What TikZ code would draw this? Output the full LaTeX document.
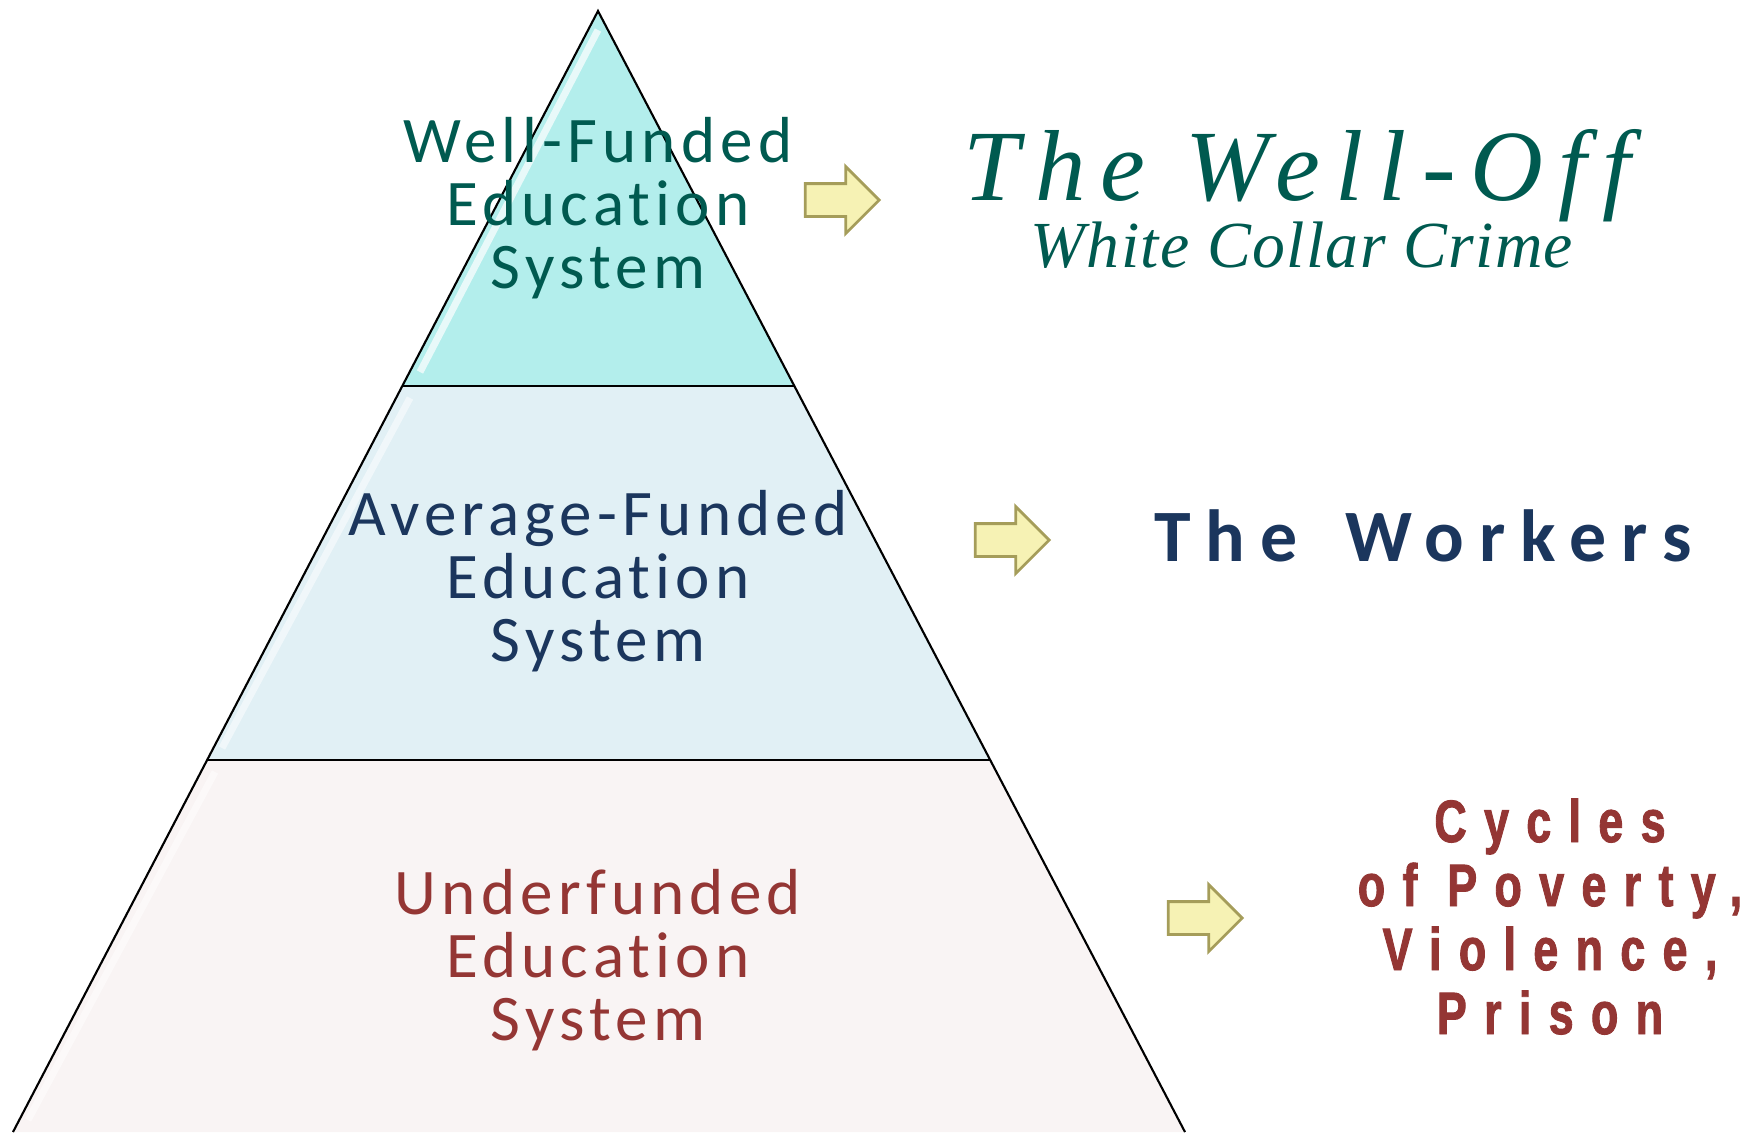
\documentclass[tikz,border=0pt]{standalone}
\usepackage{fontspec}
\usepackage{xcolor}
\usetikzlibrary{shapes.arrows}
\newfontfamily\pyrfont[LetterSpace=8,Ligatures=NoCommon]{Carlito}
\newfontfamily\workfont[LetterSpace=20.5,Ligatures=NoCommon]{Carlito}
\newfontfamily\wellfont[LetterSpace=15]{Liberation Serif}
\newfontfamily\crimefont[LetterSpace=2]{Liberation Serif}
\newfontfamily\cyclefont[LetterSpace=29,FakeStretch=0.75,FakeBold=1.5]{Liberation Sans}
\definecolor{topfill}{RGB}{179,238,236}
\definecolor{midfill}{RGB}{225,240,245}
\definecolor{lowfill}{RGB}{249,244,244}
\definecolor{tealtext}{RGB}{0,90,80}
\definecolor{navytext}{RGB}{27,54,93}
\definecolor{redtext}{RGB}{148,54,52}
\definecolor{arrowfill}{RGB}{246,242,180}
\definecolor{arrowedge}{RGB}{165,157,90}
\tikzstyle{tier} = [draw=black, line width=0.6pt]
\tikzstyle{gloss} = [white, line width=2pt, opacity=0.7]
\tikzstyle{tiertext} = [align=center, anchor=base, font=\pyrfont\fontsize{18.5pt}{17.9pt}\selectfont]
\tikzstyle{fatarrow} = [single arrow, draw=arrowedge, fill=arrowfill, line width=0.8pt, inner xsep=0pt, inner ysep=0.15cm, minimum height=0.74cm, single arrow head extend=0.17cm]

\begin{document}
\begin{tikzpicture}[x=0.01cm, y=-0.01cm]
    \useasboundingbox (0,0) rectangle (1744,1132);
    % Pyramid corners
    \coordinate (apex) at (598,11);
    \coordinate (l1) at (402,386);
    \coordinate (r1) at (794,386);
    \coordinate (l2) at (207,760);
    \coordinate (r2) at (990,760);
    \coordinate (l3) at (13,1132);
    \coordinate (r3) at (1185,1132);
    % Fill tiers
    \fill [topfill] (apex) -- (r1) -- (l1) -- cycle;
    \fill [midfill] (l1) -- (r1) -- (r2) -- (l2) -- cycle;
    \fill [lowfill] (l2) -- (r2) -- (r3) -- (l3) -- cycle;
    % Glossy left edges
    \draw [gloss] (598,30) -- (420,372);
    \draw [gloss, opacity=0.5] (410,398) -- (222,748);
    \draw [gloss, opacity=0.5] (215,772) -- (28,1120);
    % Tier outlines
    \draw [tier] (l3) -- (apex) -- (r3);
    \draw [tier] (l1) -- (r1);
    \draw [tier] (l2) -- (r2);

    % Place nodes (base = last line)
    \node [tiertext, text=tealtext] (well) at (598,288) {Well-Funded\\Education\\System};
    \node [tiertext, text=navytext] (average) at (598,661) {Average-Funded\\Education\\System};
    \node [tiertext, text=redtext] (under) at (598,1040) {Underfunded\\Education\\System};

    \node [fatarrow] (arrowtop) at (834,200) {};
    \node [fatarrow] (arrowmid) at (1004,540) {};
    \node [fatarrow] (arrowlow) at (1197,918) {};

    \node [anchor=base, text=tealtext, font=\wellfont\itshape\fontsize{28.7pt}{30pt}\selectfont] (welloff) at (1297,200) {The Well-Off};
    \node [anchor=base, text=tealtext, font=\crimefont\itshape\fontsize{18.7pt}{20pt}\selectfont] (crime) at (1302,267) {White Collar Crime};
    \node [anchor=base, text=navytext, font=\workfont\bfseries\fontsize{21pt}{24pt}\selectfont] (workers) at (1423,561) {The\hspace{0.16cm} Workers};
    \node [align=center, anchor=base, text=redtext, font=\cyclefont\bfseries\fontsize{17pt}{18.2pt}\selectfont] (cycles) at (1550,1034) {Cycles\\of Poverty,\\Violence,\\Prison};
\end{tikzpicture}
\end{document}
